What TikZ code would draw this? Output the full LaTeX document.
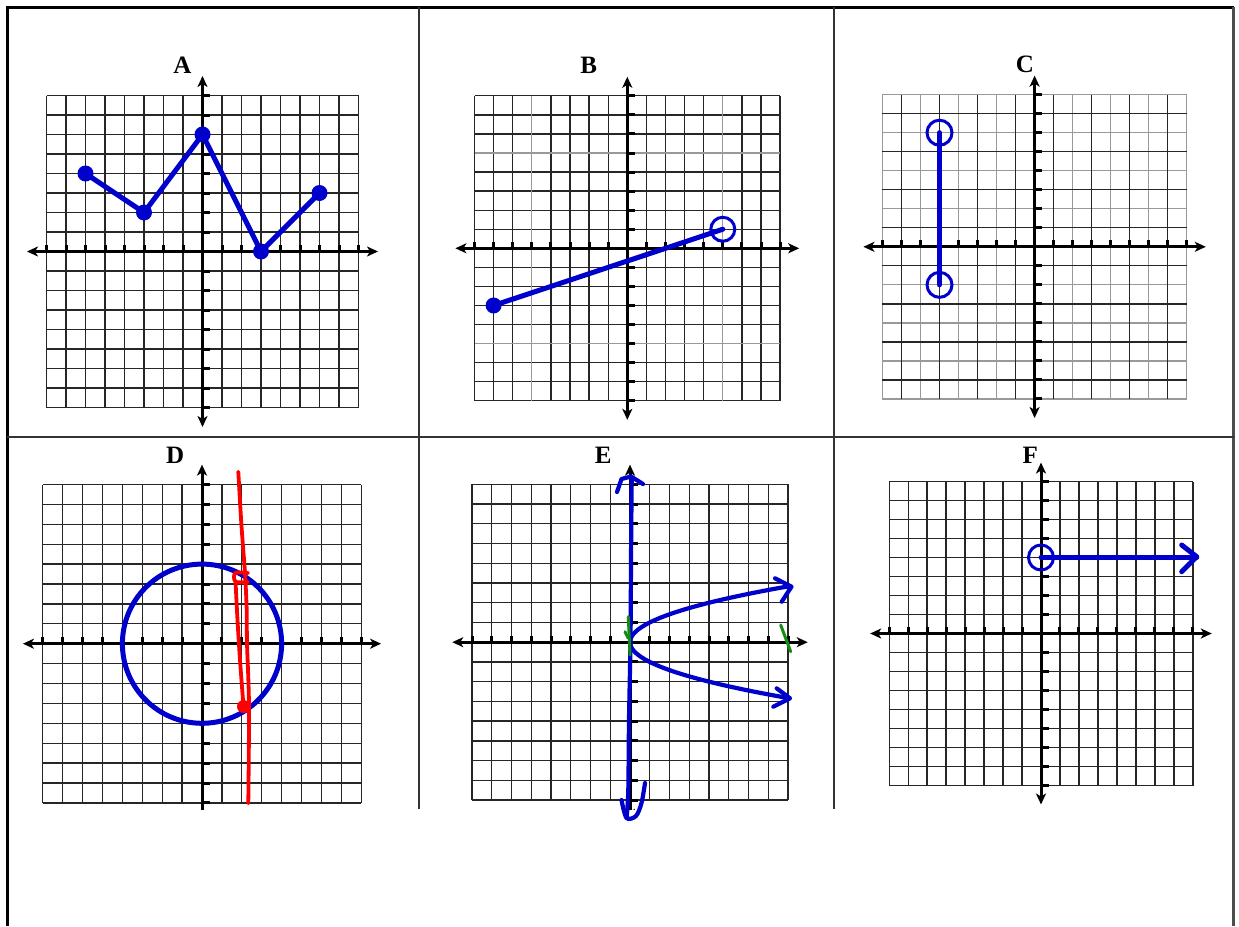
\documentclass[tikz,border=0pt]{standalone}
\usepackage{fontspec}
\setmainfont{Liberation Serif}
\usetikzlibrary{arrows.meta}
\definecolor{pblue}{RGB}{0,0,205}
\definecolor{pred}{RGB}{255,0,0}
\definecolor{pgreen}{RGB}{20,140,20}
\tikzset{
  gridline/.style={line width=1.3pt, draw=black!85},
  gridgray/.style={line width=1.3pt, draw=black!40},
  axisline/.style={line width=3pt, black, {Stealth[length=11pt,width=10pt,inset=3pt]}-{Stealth[length=11pt,width=10pt,inset=3pt]}},
  tickmark/.style={line width=3pt, black},
  graphline/.style={line width=5pt, pblue, line cap=round, line join=round},
  opendot/.style={line width=3pt, pblue},
  handblue/.style={line width=4.2pt, pblue, line cap=round, line join=round},
  handred/.style={line width=3.8pt, pred, line cap=round, line join=round},
  handgreen/.style={line width=3pt, pgreen, line cap=round},
  paneltitle/.style={font=\bfseries\fontsize{25}{30}\selectfont, inner sep=0pt},
  frameline/.style={line width=2.5pt, black},
  divider/.style={line width=1.5pt, black!80},
}
\newcommand\mygrid[1]{%
  \foreach \i in {-8,...,8}{%
    \draw[#1] (\i,-8) -- (\i,8);
    \draw[#1] (-8,\i) -- (8,\i);
  }%
}
\newcommand\myaxesticks{%
  \draw[axisline] (-9,0) -- (9,0);
  \draw[axisline] (0,-9) -- (0,9);
  \foreach \k in {-8,...,8}{%
    \fill[black] ([xshift=-1.5pt]\k,0) rectangle ([xshift=1.5pt,yshift=6.5pt]\k,0);
    \fill[black] ([yshift=-1.5pt]0,\k) rectangle ([xshift=7.5pt,yshift=1.5pt]0,\k);
  }%
}
\begin{document}
\begin{tikzpicture}[x=1pt,y=-1pt]
\useasboundingbox (0,0) rectangle (1239,926);
\fill[white] (0,0) rectangle (1239,926);

% frame and dividers
\draw[frameline] (7.3,926) -- (7.3,7.3) -- (1233.5,7.3);
\draw[line width=3pt, black!70] (1233.5,7.3) -- (1233.5,926);
\draw[divider] (419,7.3) -- (419,809);
\draw[divider] (834,7.3) -- (834,809);
\draw[divider] (7.3,437) -- (1233.5,437);

% titles
\node[paneltitle] (labA) at (182.5,65) {A};
\node[paneltitle] (labB) at (588.7,65) {B};
\node[paneltitle] (labC) at (1024.8,64.2) {C};
\node[paneltitle] (labD) at (175.2,455.3) {D};
\node[paneltitle] (labE) at (603.3,455.7) {E};
\node[paneltitle] (labF) at (1030.3,455.3) {F};

% ---------- Panel A ----------
\begin{scope}[shift={(202.5,251.5)}, x=19.5pt, y=19.5pt]
  \mygrid{gridline}
  \myaxesticks
  \draw[graphline] (-6,4) -- (-3,2) -- (0,6) -- (3,0) -- (6,3);
  \foreach \p in {(-6,4),(-3,2),(0,6),(3,0),(6,3)} \fill[pblue] \p circle[radius=8pt];
\end{scope}

% ---------- Panel B ----------
\begin{scope}[shift={(627.3,248.3)}, x=19.1pt, y=19.06pt]
  \mygrid{gridline}
  \draw[gridgray] (-5,-8) -- (-5,8) (5,-8) -- (5,8) (-8,5) -- (8,5) (-8,-5) -- (8,-5);
  \myaxesticks
  \draw[graphline] (-7,-3) -- (5,1);
  \fill[pblue] (-7,-3) circle[radius=8pt];
  \draw[opendot] (5,1) circle[radius=12pt];
\end{scope}

% ---------- Panel C ----------
\begin{scope}[shift={(1034.6,246.8)}, x=19.02pt, y=19.02pt]
  \mygrid{gridgray}
  \foreach \i in {-7,-5,...,7}{\draw[gridline] (\i,-8) -- (\i,8); \draw[gridline] (-8,\i) -- (8,\i);}
  \myaxesticks
  \draw[graphline] (-5,6) -- (-5,-2);
  \draw[opendot] (-5,6) circle[radius=12.5pt];
  \draw[opendot] (-5,-2) circle[radius=12.5pt];
\end{scope}

% ---------- Panel D ----------
\begin{scope}
  \clip (0,0) rectangle (1239,809);
  \begin{scope}[shift={(202,643.7)}, x=19.9pt, y=19.9pt]
    \mygrid{gridline}
    \myaxesticks
  \end{scope}
\end{scope}
\begin{scope}[shift={(202,643.7)}, x=19.9pt, y=19.9pt]
  \draw[line width=5pt, pblue] (0,0) circle[radius=4];
\end{scope}
\draw[handred] plot[smooth] coordinates {(238.3,471.7) (241.5,526) (245,573) (246.7,610) (247,643) (249,706) (248.3,803.3)};
\draw[handred] plot[smooth] coordinates {(248,573) (236,572.5) (234,577) (236,582) (248,582)};
\draw[handred] plot[smooth] coordinates {(235.5,581) (237.5,620) (240,660) (243.5,706.5)};
\fill[pred] (243.5,706.5) circle[radius=6.5pt];

% ---------- Panel E ----------
\begin{scope}
  \clip (0,0) rectangle (1239,809);
  \begin{scope}[shift={(630,642.2)}, x=19.75pt, y=19.73pt]
    \mygrid{gridline}
    \myaxesticks
  \end{scope}
\end{scope}
\begin{scope}[shift={(630,642.2)}, x=19.75pt, y=19.73pt]
  \draw[handblue] plot[domain=-2.83:2.83, samples=61, smooth] ({\x*\x},{\x});
\end{scope}
\draw[handblue] plot[smooth] coordinates {(631.7,477) (631,560) (630.5,640) (629,720) (628.3,790) (626.7,816.7)};
\draw[handblue] (617,492) -- (621.5,479) -- (631,476.5) -- (643,484);
\draw[handblue] plot[smooth] coordinates {(621.5,800) (626.5,818) (636,816) (641.5,803) (645,783)};
\draw[handblue] (775,578.3) -- (791.5,586.7) -- (781.7,601.7);
\draw[handblue] (776.7,688.3) -- (790,698.3) -- (773.3,706.7);
\draw[handgreen] (628.3,616.7) -- (630,655);
\draw[handgreen] (625,631.7) -- (628.3,638.3);
\draw[handgreen] (780.7,625) -- (790.7,651.7);

% ---------- Panel F ----------
\begin{scope}[shift={(1041,633.5)}, x=18.98pt, y=19pt]
  \mygrid{gridline}
  \myaxesticks
  \draw[graphline] (0,4) -- (8.2,4);
  \draw[opendot] (0,4) circle[radius=12.5pt];
\end{scope}
\draw[graphline] (1181.7,545) -- (1196.7,556.7) -- (1181.7,571.7);
\end{tikzpicture}
\end{document}
